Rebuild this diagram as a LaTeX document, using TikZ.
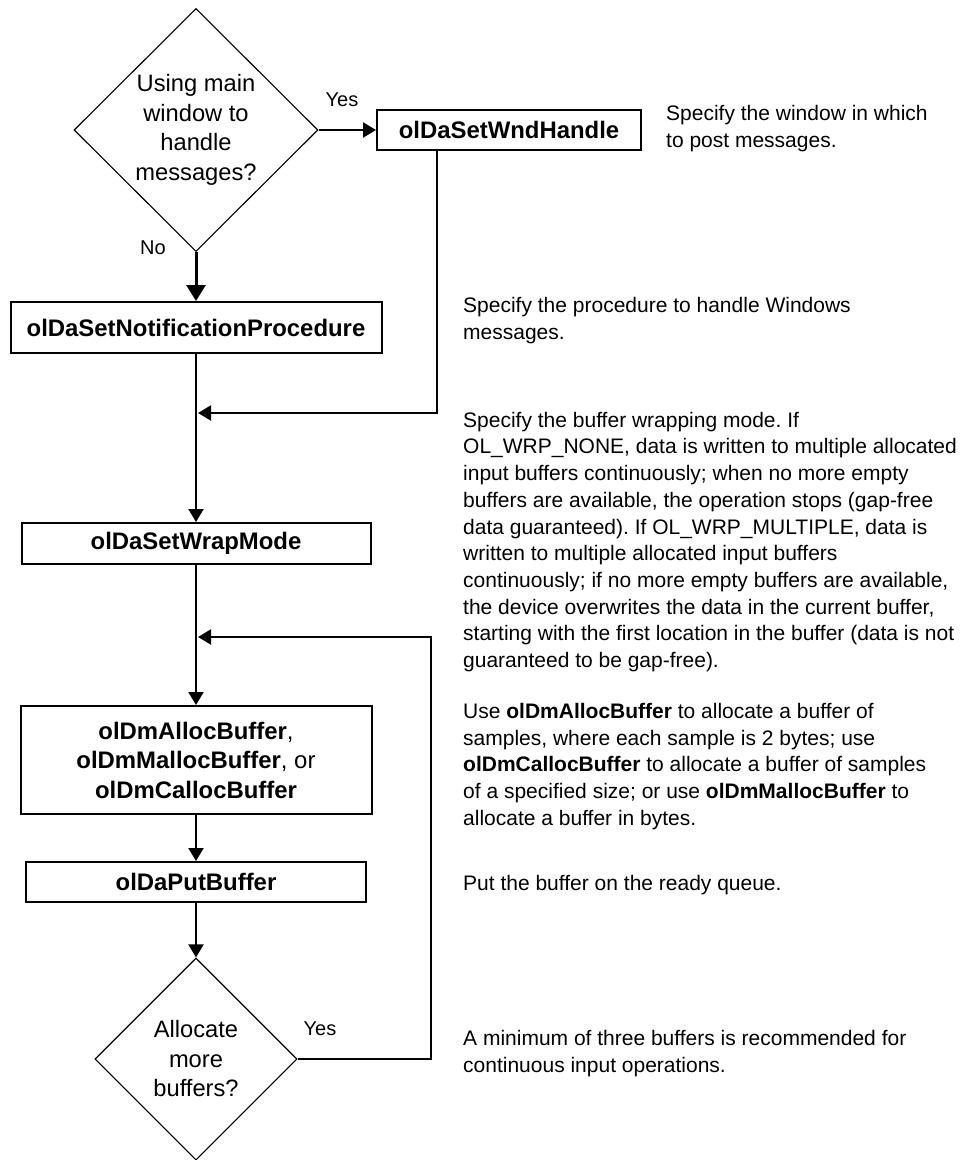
\documentclass[tikz,border=0pt]{standalone}
\usepackage{fontspec}
\setmainfont{Liberation Sans}
\usetikzlibrary{arrows.meta,positioning,shapes.geometric}
\frenchspacing

\begin{document}
\begin{tikzpicture}[x=1pt, y=-1pt, >={Triangle[width=15pt,length=13pt]},
  font=\fontsize{23.7}{29.5}\selectfont,
  call/.style={draw, line width=2pt, align=center, inner sep=0pt,
    font=\fontsize{23.9}{29.5}\selectfont\bfseries},
  query/.style={diamond, draw, line width=1.1pt, align=center, inner sep=0pt},
  answer/.style={font=\fontsize{20}{24}\selectfont},
  note/.style={anchor=west, align=left, inner sep=0pt, font=\fontsize{21}{26.7}\selectfont},
  transfer/.style={->, line width=2pt}]
  \useasboundingbox (0,0) rectangle (963,1160);

  \node[query, minimum width=244pt, minimum height=243pt] (main) at (196,130)
    {Using main\\window to\\handle\\messages?};
  \node[call, minimum width=264pt, minimum height=40pt] (wnd) at (509,130) {olDaSetWndHandle};
  \node[call, minimum width=371pt, minimum height=51pt] (notify) at (196,327.5)
    {olDaSetNotificationProcedure};
  \node[call, minimum width=349pt, minimum height=41pt] (wrap) at (196,543.5) {olDaSetWrapMode};
  \node[call, minimum width=351pt, minimum height=108pt] (alloc) at (196,760)
    {olDmAllocBuffer\mdseries,\\olDmMallocBuffer\mdseries, or\\olDmCallocBuffer};
  \node[call, minimum width=340pt, minimum height=40pt] (put) at (196,882) {olDaPutBuffer};
  \node[query, minimum width=202pt, minimum height=202pt] (more) at (196,1059)
    {Allocate\\more\\buffers?};

  \coordinate (merge) at (196,413);
  \coordinate (loop) at (196,637);

  \draw[transfer] (main.east) -- (wnd.west);
  \draw[transfer, line width=3pt, -{Triangle[width=19pt,length=16pt]}] (main.south) -- (notify.north);
  \draw[transfer, shorten >=2pt] ([xshift=-72pt]wnd.south) |- (merge);
  \draw[transfer] (notify.south) -- (wrap.north);
  \draw[transfer] (wrap.south) -- (alloc.north);
  \draw[transfer] (alloc.south) -- (put.north);
  \draw[transfer] (put.south) -- (more.north);
  \draw[transfer, shorten >=2pt] (more.east) -- ++(133,0) |- (loop);

  \node[answer] (yes1) at (342,100) {Yes};
  \node[answer] (no) at (153,248) {No};
  \node[answer] (yes2) at (320,1029) {Yes};

  \node[note] (n1) at (666,128.5) {Specify the window in which\\to post messages.};
  \node[note] (n2) at (463,320.5) {Specify the procedure to handle Windows\\messages.};
  \node[note] (n3) at (463,542) {Specify the buffer wrapping mode. If\\
    OL\_WRP\_NONE, data is written to multiple allocated\\
    input buffers continuously; when no more empty\\
    buffers are available, the operation stops (gap-free\\
    data guaranteed). If OL\_WRP\_MULTIPLE, data is\\
    written to multiple allocated input buffers\\
    continuously; if no more empty buffers are available,\\
    the device overwrites the data in the current buffer,\\
    starting with the first location in the buffer (data is not\\
    guaranteed to be gap-free).};
  \node[note] (n4) at (463,766.5) {Use \textbf{olDmAllocBuffer} to allocate a buffer of\\
    samples, where each sample is 2 bytes; use\\
    \textbf{olDmCallocBuffer} to allocate a buffer of samples\\
    of a specified size; or use \textbf{olDmMallocBuffer} to\\
    allocate a buffer in bytes.};
  \node[note] (n5) at (463,885) {Put the buffer on the ready queue.};
  \node[note] (n6) at (463,1053.5) {A minimum of three buffers is recommended for\\
    continuous input operations.};
\end{tikzpicture}
\end{document}
